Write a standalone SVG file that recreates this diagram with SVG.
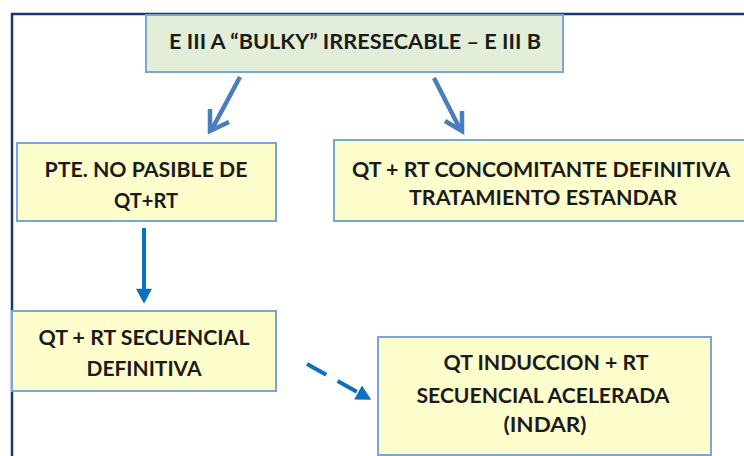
<svg xmlns="http://www.w3.org/2000/svg" width="744" height="456" viewBox="0 0 744 456">
  <style>
    .box { fill: #fefdcc; stroke: #7aa6d6; stroke-width: 2; }
    .head { fill: #e3eed9; stroke: #7aa6d6; stroke-width: 2; }
    .lbl { font-family: Lato, "Liberation Sans", sans-serif; font-weight: bold; font-size: 20px; fill: #1b1b1b; text-anchor: middle; }
    .frame { fill: none; stroke: #1c3578; stroke-width: 2.5; }
    .steel { fill: none; stroke: #4a7dbd; stroke-width: 4.5; stroke-linecap: butt; stroke-linejoin: miter; }
    .flow { fill: none; stroke: #0a70c0; stroke-width: 4; }
  </style>
  <defs>
    <marker id="tri" markerUnits="userSpaceOnUse" markerWidth="16" markerHeight="16" refX="2" refY="7.5" orient="auto" viewBox="0 0 14 15">
      <path d="M0,0 L14,7.5 L0,15 Z" fill="#0a70c0"/>
    </marker>
  </defs>

  <rect width="744" height="456" fill="#ffffff"/>
  <path class="frame" d="M12,456 V14 H744"/>

  <g id="connectors">
    <!-- top box to left branch -->
    <path class="steel" d="M240,77 L212,129"/>
    <path class="steel" d="M210,109 L210,131 L229,122"/>
    <!-- top box to right branch -->
    <path class="steel" d="M434,78 L460,129"/>
    <path class="steel" d="M445,121 L462,131 L462,111"/>
    <!-- left branch downwards -->
    <path class="flow" d="M144,228 V291" marker-end="url(#tri)"/>
    <!-- sequential to induction (dashed) -->
    <path class="flow" d="M307,364 L360,393.5" stroke-dasharray="22,13" marker-end="url(#tri)"/>
  </g>

  <g id="n-stage">
    <rect class="head" x="146" y="15" width="417" height="57"/>
    <text class="lbl" x="355" y="49" textLength="372" lengthAdjust="spacingAndGlyphs">E III A “BULKY” IRRESECABLE – E III B</text>
  </g>

  <g id="n-not-eligible">
    <rect class="box" x="17" y="143" width="259" height="78"/>
    <text class="lbl" x="146" y="177" textLength="203" lengthAdjust="spacingAndGlyphs">PTE. NO PASIBLE DE</text>
    <text class="lbl" x="146" y="208" textLength="64" lengthAdjust="spacingAndGlyphs">QT+RT</text>
  </g>

  <g id="n-concomitant">
    <rect class="box" x="334" y="140" width="420" height="81"/>
    <text class="lbl" x="541" y="177" textLength="378" lengthAdjust="spacingAndGlyphs">QT + RT CONCOMITANTE DEFINITIVA</text>
    <text class="lbl" x="543" y="205" textLength="268" lengthAdjust="spacingAndGlyphs">TRATAMIENTO ESTANDAR</text>
  </g>

  <g id="n-sequential">
    <rect class="box" x="12" y="311" width="264" height="80"/>
    <text class="lbl" x="144" y="345" textLength="211" lengthAdjust="spacingAndGlyphs">QT + RT SECUENCIAL</text>
    <text class="lbl" x="144" y="376" textLength="115" lengthAdjust="spacingAndGlyphs">DEFINITIVA</text>
  </g>

  <g id="n-indar">
    <rect class="box" x="378" y="337" width="333" height="118"/>
    <text class="lbl" x="546" y="370" textLength="205" lengthAdjust="spacingAndGlyphs">QT INDUCCION + RT</text>
    <text class="lbl" x="543" y="403" textLength="253" lengthAdjust="spacingAndGlyphs">SECUENCIAL ACELERADA</text>
    <text class="lbl" x="545" y="432" textLength="83" lengthAdjust="spacingAndGlyphs">(INDAR)</text>
  </g>
</svg>
